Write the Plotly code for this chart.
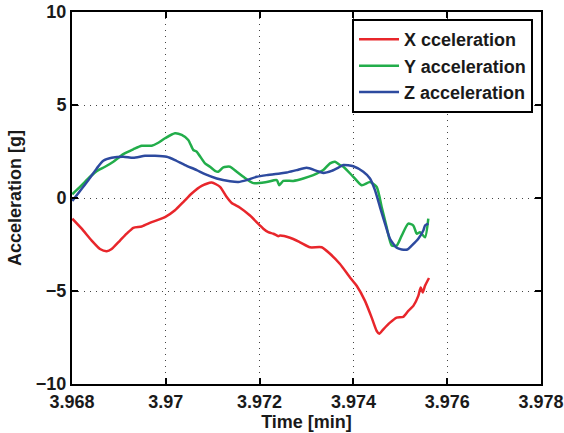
import plotly.graph_objects as go

# ---- data (time in minutes, acceleration in g) ----
t_x = [3.968006, 3.968207, 3.968420, 3.968597, 3.968740, 3.968846, 3.969023, 3.969166,
       3.969307, 3.969486, 3.969699, 3.969983, 3.970196, 3.970373, 3.970552, 3.970765,
       3.970979, 3.971156, 3.971299, 3.971405, 3.971582, 3.971795, 3.972009, 3.972079,
       3.972185, 3.972292, 3.972399, 3.972435, 3.972648, 3.972861, 3.973075, 3.973324,
       3.973501, 3.973714, 3.973927, 3.974070, 3.974247, 3.974390, 3.974497, 3.974552,
       3.974638, 3.974780, 3.974923, 3.975064, 3.975171, 3.975278, 3.975384, 3.975435,
       3.975478, 3.975527, 3.975612]
acc_x = [-1.11, -1.65, -2.29, -2.74, -2.86, -2.74, -2.29, -1.92,
         -1.60, -1.53, -1.30, -1.03, -0.66, -0.22, 0.24, 0.65,
         0.83, 0.60, 0.05, -0.27, -0.52, -0.94, -1.48, -1.65,
         -1.84, -1.92, -2.05, -2.02, -2.14, -2.38, -2.65, -2.65,
         -3.00, -3.55, -4.27, -4.72, -5.53, -6.43, -7.15, -7.30,
         -7.06, -6.70, -6.43, -6.39, -6.07, -5.80, -5.26, -4.81,
         -5.08, -4.72, -4.30]

t_y = [3.968006, 3.968207, 3.968384, 3.968561, 3.968704, 3.968881, 3.969094, 3.969307,
       3.969486, 3.969699, 3.969840, 3.969983, 3.970196, 3.970339, 3.970479, 3.970586,
       3.970659, 3.970836, 3.970942, 3.971049, 3.971119, 3.971226, 3.971369, 3.971512,
       3.971653, 3.971866, 3.972151, 3.972365, 3.972420, 3.972505, 3.972719, 3.972932,
       3.973145, 3.973358, 3.973501, 3.973608, 3.973714, 3.973785, 3.973998, 3.974177,
       3.974354, 3.974497, 3.974603, 3.974710, 3.974817, 3.974923, 3.975030, 3.975171,
       3.975278, 3.975350, 3.975420, 3.975527, 3.975597]
acc_y = [0.20, 0.69, 1.14, 1.50, 1.68, 1.95, 2.36, 2.62,
         2.81, 2.81, 2.97, 3.21, 3.48, 3.39, 3.12, 2.58,
         2.49, 1.86, 1.68, 1.46, 1.41, 1.65, 1.68, 1.41,
         1.14, 0.80, 0.86, 0.96, 0.69, 0.92, 0.92, 1.05,
         1.23, 1.50, 1.86, 1.95, 1.77, 1.68, 1.14, 0.69,
         0.86, 0.59, -0.49, -1.57, -2.56, -2.56, -2.02, -1.38,
         -1.48, -1.92, -1.84, -2.11, -1.11]

t_z = [3.968006, 3.968171, 3.968348, 3.968527, 3.968667, 3.968846, 3.969094, 3.969307,
       3.969557, 3.969770, 3.970019, 3.970196, 3.970409, 3.970659, 3.970836, 3.971085,
       3.971369, 3.971546, 3.971725, 3.971938, 3.972151, 3.972435, 3.972578, 3.972791,
       3.973004, 3.973217, 3.973358, 3.973537, 3.973714, 3.973785, 3.973998, 3.974211,
       3.974354, 3.974460, 3.974567, 3.974674, 3.974780, 3.974923, 3.975030, 3.975150,
       3.975243, 3.975384, 3.975491, 3.975527, 3.975597]
acc_z = [-0.16, 0.38, 0.96, 1.59, 2.00, 2.16, 2.22, 2.16,
         2.27, 2.27, 2.22, 2.04, 1.77, 1.50, 1.28, 1.05,
         0.90, 0.86, 0.96, 1.14, 1.23, 1.32, 1.37, 1.50,
         1.62, 1.46, 1.35, 1.46, 1.68, 1.77, 1.71, 1.41,
         1.05, 0.42, -0.49, -1.38, -2.19, -2.68, -2.77, -2.77,
         -2.56, -2.19, -1.75, -1.48, -1.38]

series_names = ["X cceleration", "Y acceleration", "Z acceleration"]
series_colors = ["#e8262b", "#22ad4a", "#2d4a9f"]

x_ticks = [3.968, 3.970, 3.972, 3.974, 3.976, 3.978]
x_tick_labels = ["3.968", "3.97", "3.972", "3.974", "3.976", "3.978"]
y_ticks = [-10, -5, 0, 5, 10]

FONT = "Liberation Sans, Arial, sans-serif"
TXT = "#1a1a1a"

fig = go.Figure()
for tt, aa, name, col in zip([t_x, t_y, t_z], [acc_x, acc_y, acc_z], series_names, series_colors):
    fig.add_trace(go.Scatter(x=tt, y=aa, mode="lines", name=name,
                             line=dict(color=col, width=2.5, shape="spline", smoothing=0.6)))

axis_common = dict(
    showline=True, linecolor="black", linewidth=2, mirror="ticks",
    ticks="inside", ticklen=6, tickwidth=1.5, tickcolor="black",
    showgrid=True, gridcolor="#444444", gridwidth=1, griddash="1px,5px",
    zeroline=False, automargin=False,
    tickfont=dict(family=FONT, size=18, color=TXT, weight="bold"),
)

fig.update_xaxes(range=[3.968, 3.978], tickvals=x_ticks, ticktext=x_tick_labels,
                 title=dict(text="Time [min]", standoff=0,
                            font=dict(family=FONT, size=18, color=TXT, weight="bold")),
                 **axis_common)
fig.update_yaxes(range=[-10, 10], tickvals=y_ticks,
                 title=dict(text="Acceleration [g]", standoff=10,
                            font=dict(family=FONT, size=18, color=TXT, weight="bold")),
                 **axis_common)

fig.update_layout(
    width=564, height=433,
    margin=dict(l=72, r=23, t=12, b=49),
    paper_bgcolor="white", plot_bgcolor="white",
    showlegend=True,
    legend=dict(x=0.983, y=0.981, xanchor="right", yanchor="top",
                bgcolor="white", bordercolor="black", borderwidth=2,
                font=dict(family=FONT, size=18, color=TXT, weight="bold"),
                itemwidth=40, tracegroupgap=0),
)

fig.write_html("out.html")
